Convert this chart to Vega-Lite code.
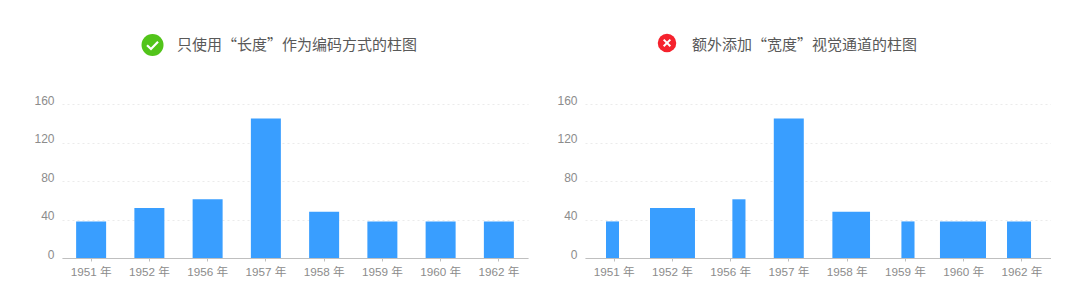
{"$schema":"https://vega.github.io/schema/vega-lite/v6.json","background":"white","autosize":{"type":"pad"},"padding":{"left":33,"top":33,"right":0,"bottom":0},"spacing":28,"config":{"view":{"stroke":null},"font":"Liberation Sans","title":{"font":"Noto Sans CJK SC","fontSize":15,"fontWeight":"normal","color":"#595959","anchor":"start","frame":"group"},"axisX":{"title":null,"labelAngle":0,"labelFont":"Liberation Sans, Noto Sans CJK SC","labelFontSize":11.7,"labelColor":"#8c8c8c","domainColor":"#bfbfbf","tickColor":"#bfbfbf","tickSize":3,"labelPadding":5.5,"grid":false},"axisY":{"title":null,"labelFont":"Liberation Sans","labelFontSize":12,"labelColor":"#8c8c8c","domain":false,"ticks":false,"labelPadding":8,"labelOffset":-4,"grid":true,"gridColor":"#ebebeb","gridDash":[2,3]}},"datasets":{"bars":[{"year":"1951 年","sales":38,"start":0.36,"end":0.584},{"year":"1952 年","sales":52,"start":1.116,"end":1.888},{"year":"1956 年","sales":61,"start":2.53,"end":2.755},{"year":"1957 年","sales":145,"start":3.241,"end":3.756},{"year":"1958 年","sales":48,"start":4.247,"end":4.893},{"year":"1959 年","sales":38,"start":5.432,"end":5.657},{"year":"1960 年","sales":38,"start":6.094,"end":6.884},{"year":"1962 年","sales":38,"start":7.245,"end":7.657}]},"hconcat":[{"width":466,"height":154,"title":{"text":"只使用“长度”作为编码方式的柱图","dx":115,"offset":-19},"layer":[{"data":{"name":"bars"},"mark":{"type":"bar","color":"#399EFF"},"encoding":{"x":{"field":"year","type":"nominal","sort":null,"scale":{"paddingInner":0.485,"paddingOuter":0.2425}},"y":{"field":"sales","type":"quantitative","scale":{"domain":[0,160],"nice":false},"axis":{"values":[0,40,80,120,160]}}}},{"data":{"values":[{"px":1.554,"py":221.3}]},"mark":{"type":"point","filled":true,"shape":"circle","size":484,"color":"#52C41A","opacity":1},"encoding":{"x":{"field":"px","type":"quantitative","scale":{"domain":[0,8],"nice":false},"axis":null},"y":{"field":"py","type":"quantitative","scale":{"domain":[0,160],"nice":false},"axis":{"values":[0,40,80,120,160]}}}},{"data":{"values":[{"px":1.554,"py":221.3}]},"mark":{"type":"point","filled":false,"shape":"M-0.5,0.02L-0.14,0.36L0.5,-0.3","size":484,"stroke":"white","strokeWidth":2.2,"opacity":1},"encoding":{"x":{"field":"px","type":"quantitative","scale":{"domain":[0,8],"nice":false},"axis":null},"y":{"field":"py","type":"quantitative","scale":{"domain":[0,160],"nice":false},"axis":{"values":[0,40,80,120,160]}}}}],"resolve":{"scale":{"x":"independent"}}},{"width":466,"height":154,"title":{"text":"额外添加“宽度”视觉通道的柱图","dx":107,"offset":-19},"layer":[{"data":{"name":"bars"},"mark":{"type":"bar","opacity":0},"encoding":{"x":{"field":"year","type":"nominal","sort":null},"y":{"field":"sales","type":"quantitative","scale":{"domain":[0,160],"nice":false},"axis":{"values":[0,40,80,120,160]}}}},{"data":{"name":"bars"},"mark":{"type":"rect","color":"#399EFF"},"encoding":{"x":{"field":"start","type":"quantitative","scale":{"domain":[0,8],"nice":false},"axis":null},"x2":{"field":"end"},"y":{"field":"sales","type":"quantitative","scale":{"domain":[0,160],"nice":false},"axis":{"values":[0,40,80,120,160]}},"y2":{"datum":0}}},{"data":{"values":[{"px":1.408,"py":223.4}]},"mark":{"type":"point","filled":true,"shape":"circle","size":342,"color":"#F5222D","opacity":1},"encoding":{"x":{"field":"px","type":"quantitative","scale":{"domain":[0,8],"nice":false},"axis":null},"y":{"field":"py","type":"quantitative","scale":{"domain":[0,160],"nice":false},"axis":{"values":[0,40,80,120,160]}}}},{"data":{"values":[{"px":1.408,"py":223.4}]},"mark":{"type":"point","filled":false,"shape":"M-0.36,-0.36L0.36,0.36M-0.36,0.36L0.36,-0.36","size":342,"stroke":"white","strokeWidth":2,"opacity":1},"encoding":{"x":{"field":"px","type":"quantitative","scale":{"domain":[0,8],"nice":false},"axis":null},"y":{"field":"py","type":"quantitative","scale":{"domain":[0,160],"nice":false},"axis":{"values":[0,40,80,120,160]}}}}],"resolve":{"scale":{"x":"independent"}}}]}
